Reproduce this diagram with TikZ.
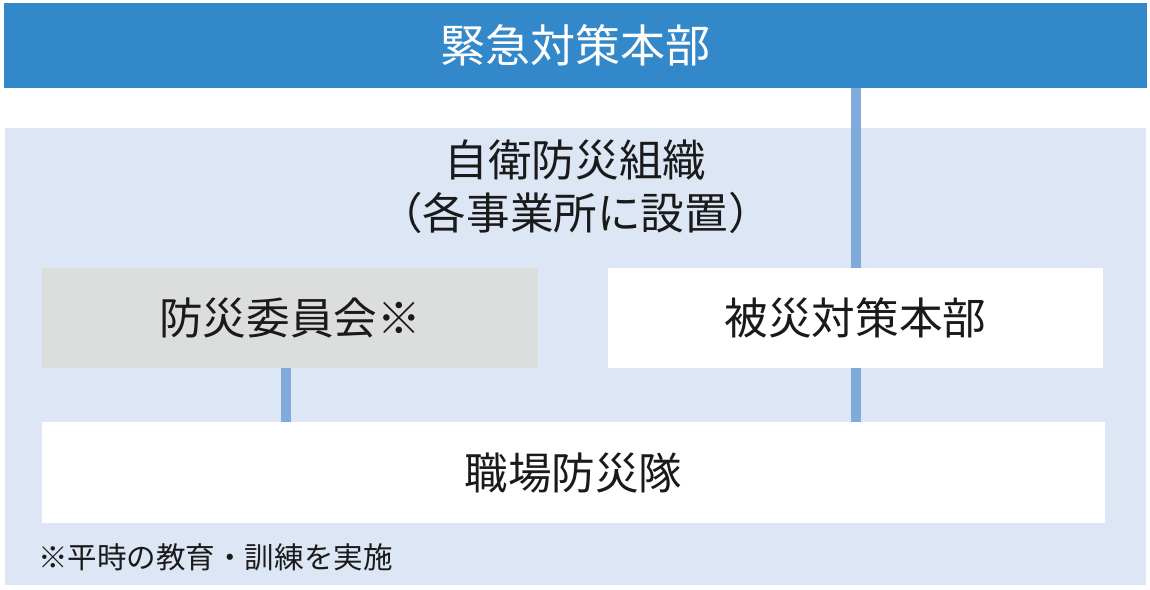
\documentclass[tikz,border=0pt]{standalone}
\usepackage{fontspec}
\setmainfont{Noto Sans CJK JP}
\usetikzlibrary{positioning}
\definecolor{hqblue}{HTML}{3288C8}
\definecolor{panelblue}{HTML}{DDE6F4}
\definecolor{linkblue}{HTML}{80AADB}
\definecolor{boxgray}{HTML}{DCDDDD}
\definecolor{ink}{HTML}{1A1A1A}
\begin{document}
\begin{tikzpicture}[x=0.025cm,y=-0.025cm,
  txt/.style={text=ink,font=\fontsize{31}{37.7}\selectfont,align=center},
  box/.style={txt,inner sep=0pt,minimum height=2.5cm,fill=white},
  link/.style={linkblue,line width=7.1pt}]
\useasboundingbox (0,0) rectangle (1150,590);
\node[fill=panelblue,inner sep=0pt,minimum width=28.525cm,minimum height=11.425cm] (panel) at (575.5,356.5) {};
\node[fill=hqblue,text=white,inner sep=0pt,minimum width=28.575cm,minimum height=2.125cm,font=\fontsize{32}{38}\selectfont] (hq) at (575.5,45.5) {緊急対策本部};
\node[txt] (org) at (575.5,187) {自衛防災組織\\（各事業所に設置）};
\node[box,fill=boxgray,minimum width=12.4cm] (iinkai) at (290,318) {防災委員会※};
\node[box,minimum width=12.375cm] (hisai) at (855.5,318) {被災対策本部};
\node[box,minimum width=26.575cm] (shokuba) at (573.5,472.5) {職場防災隊};
\node[txt,font=\fontsize{21}{25}\selectfont,anchor=west,inner sep=0pt] (note) at (38,557) {※平時の教育・訓練を実施};
% connectors
\draw[link] (hq.south -| hisai) -- (hisai.north);
\draw[link] (hisai.south) -- (shokuba.north -| hisai);
\draw[link] ([xshift=-0.1cm]iinkai.south) -- ([xshift=-0.1cm]iinkai.south |- shokuba.north);
\end{tikzpicture}
\end{document}
